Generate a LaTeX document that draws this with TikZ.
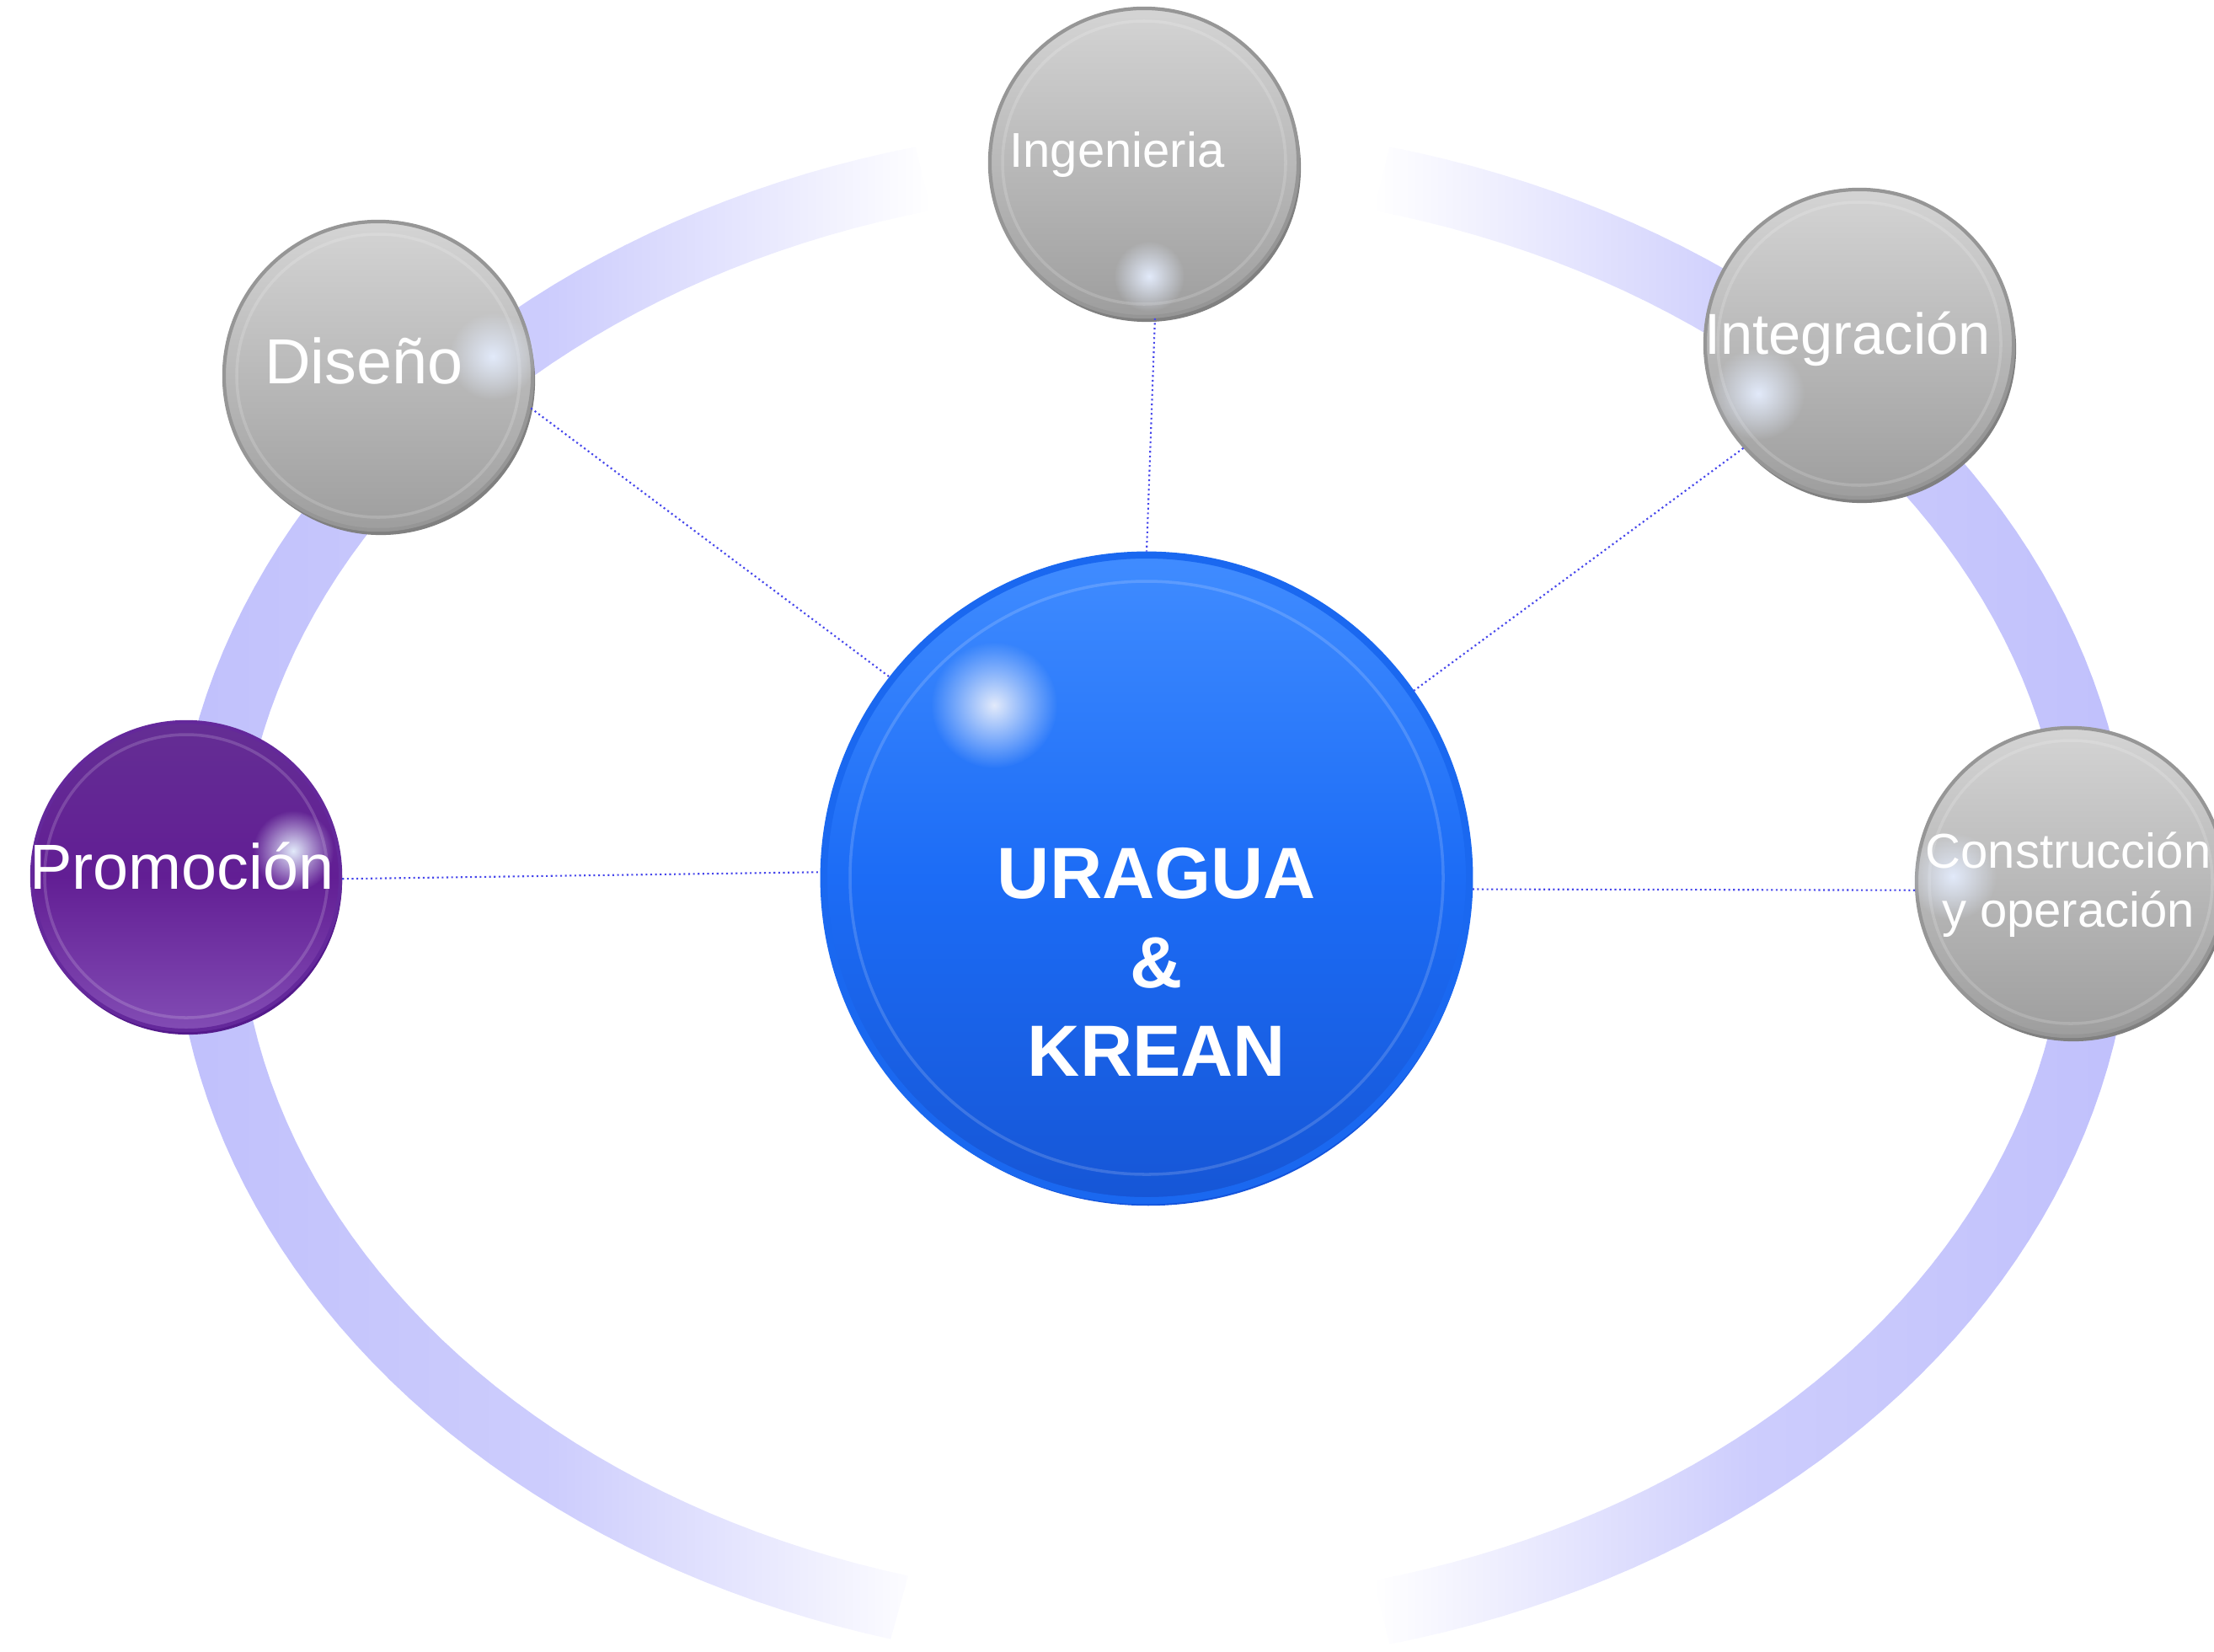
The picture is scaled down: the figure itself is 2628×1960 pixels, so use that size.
\documentclass[tikz,border=0pt]{standalone}
\usepackage{fontspec}
\setmainfont{Liberation Sans}
\usetikzlibrary{shadows,fadings}

\definecolor{ringc}{RGB}{192,192,252}
\definecolor{linkc}{RGB}{70,70,235}
\definecolor{graytop}{RGB}{212,212,212}
\definecolor{graybot}{RGB}{158,158,158}
\definecolor{grayrim}{RGB}{150,150,150}
\definecolor{grayshd}{RGB}{128,128,128}
\definecolor{bluetop}{RGB}{64,140,255}
\definecolor{bluemid}{RGB}{28,108,246}
\definecolor{bluebot}{RGB}{22,86,214}
\definecolor{bluerim}{RGB}{26,104,240}
\definecolor{blueshd}{RGB}{20,84,220}
\definecolor{purtop}{RGB}{100,46,148}
\definecolor{purmid}{RGB}{98,30,148}
\definecolor{purbot}{RGB}{130,76,180}
\definecolor{purrim}{RGB}{100,40,155}
\definecolor{purshd}{RGB}{84,26,140}
\definecolor{glowc}{RGB}{226,234,250}

\tikzfading[name=glowfade, inner color=transparent!0, outer color=transparent!100]

\tikzset{
  bubble/.style={circle, inner sep=0pt, minimum size=3.66cm, line width=1.2pt},
  graybubble/.style={bubble, top color=graytop, bottom color=graybot, draw=grayrim,
    general shadow={fill=grayshd, shadow xshift=0.03cm, shadow yshift=-0.06cm}},
  purbubble/.style={bubble, top color=purtop, bottom color=purbot, middle color=purmid, draw=purrim,
    general shadow={fill=purshd, shadow xshift=0.02cm, shadow yshift=-0.05cm}},
  corebubble/.style={bubble, minimum size=7.66cm, line width=2.4pt,
    top color=bluetop, bottom color=bluebot, middle color=bluemid, draw=bluerim,
    general shadow={fill=blueshd, shadow xshift=0.02cm, shadow yshift=-0.06cm}},
  txt/.style={text=white, align=center},
  link/.style={linkc, densely dotted, line width=0.6pt},
  glow/.style={fill=glowc, path fading=glowfade},
  shine/.style={white, opacity=0.16, line width=1pt}
}

\begin{document}
\begin{tikzpicture}[x=0.01cm, y=-0.01cm]
\useasboundingbox (0,0) rectangle (2628,1960);

% ring, two halves fading to white at top and bottom
\path[left color=ringc, right color=white, middle color=ringc!80!white]
  plot[domain=105.5:256, samples=90] ({1368+1163*cos(\x)}, {1063+916*sin(\x)})
  -- plot[domain=256:105.5, samples=90] ({1368+1085*cos(\x)}, {1063+838*sin(\x)}) -- cycle;
\path[left color=white, right color=ringc, middle color=ringc!80!white]
  plot[domain=-76:76, samples=90] ({1368+1163*cos(\x)}, {1063+916*sin(\x)})
  -- plot[domain=76:-76, samples=90] ({1368+1085*cos(\x)}, {1063+838*sin(\x)}) -- cycle;

\node[corebubble] (core) at (1361,1042) {};
\node[graybubble] (ing) at (1358,193) {};
\node[graybubble] (dis) at (449,446) {};
\node[graybubble] (int) at (2207,408) {};
\node[purbubble] (pro) at (221,1040) {};
\node[graybubble] (con) at (2458,1047) {};

\draw[shine] (core) circle (352);
\draw[shine] (ing) circle (168);
\draw[shine] (dis) circle (168);
\draw[shine] (int) circle (168);
\draw[shine] (pro) circle (168);
\draw[shine] (con) circle (168);

\fill[glow] (1180,837) circle (75);
\fill[glow] (1364,328) circle (42);
\fill[glow] (585,423) circle (52);
\fill[glow] (2087,467) circle (55);
\fill[glow] (348,1010) circle (48);
\fill[glow] (2318,1040) circle (52);

\node[txt, font=\bfseries\fontsize{24.5}{30}\selectfont] (coretxt) at (1373,1142) {URAGUA\\\&\\KREAN};
\node[txt, font=\fontsize{16.5}{20}\selectfont] (ingtxt) at (1326,183) {Ingenieria};
\node[txt, font=\fontsize{21.5}{26}\selectfont] (distxt) at (432,428) {Diseño};
\node[txt, font=\fontsize{19.5}{24}\selectfont] (inttxt) at (2193,402) {Integración};
\node[txt, font=\fontsize{21.5}{26}\selectfont] (protxt) at (216,1028) {Promoción};
\node[txt, font=\fontsize{16.5}{20}\selectfont] (contxt) at (2455,1050) {Construcción\\y operación};

\path[draw,link] (ing.-86) -- (core.90);
\path[draw,link] (dis.-12) -- (core.142.5);
\path[draw,link] (int.-138) -- (core.35);
\path[draw,link] (pro.-1) -- (core.179);
\path[draw,link] (con.183) -- (core.-2);
\end{tikzpicture}
\end{document}
